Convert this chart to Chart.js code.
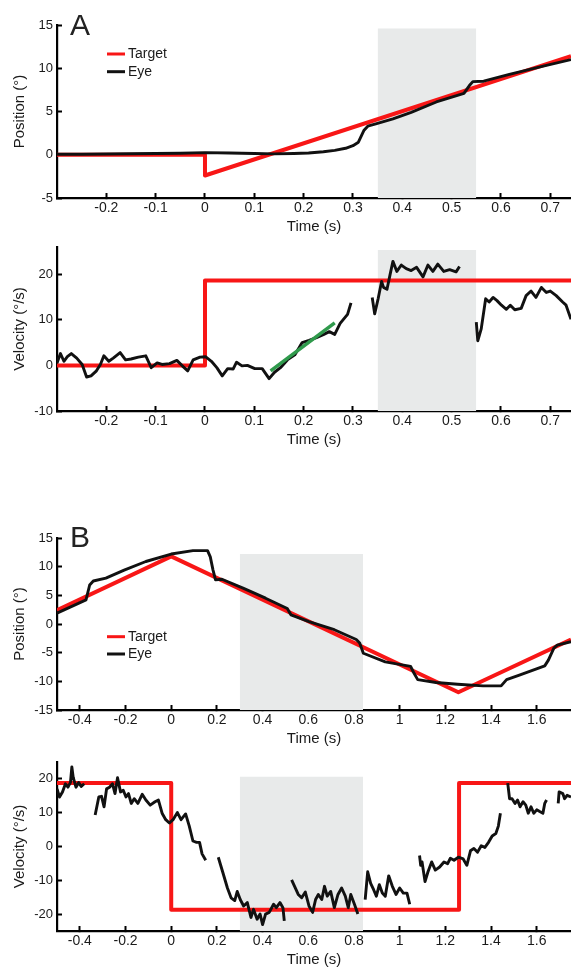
<!DOCTYPE html>
<html>
<head>
<meta charset="utf-8">
<script src="https://cdn.jsdelivr.net/npm/chart.js@4.4.1/dist/chart.umd.min.js"></script>
<style>
  html, body { margin: 0; padding: 0; background: #fff; }
  #fig { position: relative; width: 571px; height: 967px; overflow: hidden; }
  #fig canvas { position: absolute; left: 0; }
  .panel { position: absolute; font: 30px "Liberation Sans", Arial, sans-serif; line-height: 30px; color: #222; }
</style>
</head>
<body>
<div id="fig">
  <canvas id="aPos" width="571" height="238" style="top:0px"></canvas>
  <canvas id="aVel" width="571" height="221" style="top:230px"></canvas>
  <canvas id="bPos" width="571" height="250" style="top:500px"></canvas>
  <canvas id="bVel" width="571" height="226" style="top:745px"></canvas>
  <div class="panel" style="left:70px;top:10px">A</div>
  <div class="panel" style="left:70px;top:522px">B</div>
</div>
<script>
// ---- panel A ----
const aTicksX = [-0.2, -0.1, 0, 0.1, 0.2, 0.3, 0.4, 0.5, 0.6, 0.7];
const aPosTicksY = [-5, 0, 5, 10, 15];
const aVelTicksY = [-10, 0, 10, 20];
const aShadeT = [0.35, 0.55];
const aPosShadeTop = [14.6, 14.6];
const aVelShadeTop = [25.3, 25.3];

const aPosTargetT = [-0.3, 0, 0, 0.742];
const aPosTargetY = [0, 0, -2.4, 11.4];
const aPosEyeT = [-0.3, -0.25, -0.2, -0.15, -0.1, -0.05, 0, 0.05, 0.1, 0.14, 0.18, 0.21, 0.24, 0.263, 0.285, 0.3,
  0.311, 0.322, 0.33, 0.348, 0.381, 0.418, 0.469, 0.525, 0.536, 0.543, 0.565, 0.617, 0.69, 0.742];
const aPosEyeY = [0.05, 0.05, 0.08, 0.12, 0.15, 0.18, 0.25, 0.2, 0.15, 0.1, 0.15, 0.2, 0.35, 0.5, 0.75, 1.05,
  1.45, 2.8, 3.3, 3.6, 4.15, 4.9, 6.1, 7.1, 8.0, 8.45, 8.5, 9.3, 10.3, 11.0];

const aVelTargetT = [-0.3, 0, 0, 0.742];
const aVelTargetV = [0, 0, 18.6, 18.6];
const aVelFitT = [0.133, 0.263];
const aVelFitV = [-1.2, 9.3];
const aVelEyeT = [-0.3, -0.293, -0.286, -0.279, -0.271, -0.26, -0.249, -0.24, -0.231, -0.22, -0.212, -0.205, -0.195,
  -0.186, -0.172, -0.161, -0.15, -0.135, -0.12, -0.109, -0.097, -0.087, -0.072, -0.057, -0.046, -0.035, -0.024,
  -0.01, 0.001, 0.013, 0.024, 0.035, 0.046, 0.057, 0.064, 0.075, 0.086, 0.101, 0.116, 0.13, 0.141, 0.153, 0.167,
  0.182, 0.197, 0.211, 0.226, 0.241, 0.252, 0.263, 0.274, 0.289, 0.296,
  0.32,
  0.339, 0.344, 0.351, 0.358, 0.362, 0.369, 0.375, 0.381, 0.389, 0.398, 0.408, 0.418, 0.429, 0.442, 0.452, 0.462,
  0.472, 0.484, 0.496, 0.509, 0.516,
  0.53,
  0.55, 0.553, 0.56, 0.569, 0.576, 0.584, 0.592, 0.601, 0.611, 0.619, 0.628, 0.641, 0.651, 0.661, 0.671, 0.682,
  0.692, 0.7, 0.712, 0.725, 0.732, 0.742];
const aVelEyeV = [0.55, 2.6, 0.9, 1.9, 2.6, 1.6, 0.2, -2.55, -2.3, -1.2, 0.2, 2.1, 0.9,
  1.6, 2.8, 1.2, 1.4, 1.8, 2.1, -0.5, 0.55, 0.2, 0.4, 1.1, -0.1, -1.2, 1.2,
  1.8, 1.9, 0.9, -0.5, -2.3, -0.7, -0.8, 0.7, -0.1, 0, -0.7, -0.7, -2.9, -1.5, -0.5, 1.2,
  2.3, 5.0, 5.5, 6.1, 6.8, 7.4, 6.8, 9.2, 11.2, 13.7,
  null,
  14.9, 11.3, 14.6, 18.4, 17.1, 16.7, 19.8, 22.8, 20.6, 22.0, 21.2, 20.8, 21.5, 19.4, 22.0, 20.6,
  22.2, 20.6, 21.0, 20.5, 21.7,
  null,
  9.5, 5.4, 8.0, 14.6, 13.9, 14.9, 14.2, 13.2, 12.3, 13.2, 12.2, 12.5, 15.3, 16.3, 14.9, 17.1,
  16.0, 16.3, 15.3, 13.9, 13.2, 10.1];

// ---- panel B ----
const bTicksX = [-0.4, -0.2, 0, 0.2, 0.4, 0.6, 0.8, 1, 1.2, 1.4, 1.6];
const bPosTicksY = [-15, -10, -5, 0, 5, 10, 15];
const bVelTicksY = [-20, -10, 0, 10, 20];
const bShadeT = [0.3, 0.84];
const bPosShadeTop = [12.2, 12.2];
const bVelShadeTop = [20.6, 20.6];

const bPosTargetT = [-0.5, 0, 1.257, 1.75];
const bPosTargetY = [2.4, 11.8, -11.9, -2.7];
const bPosEyeT = [-0.5, -0.373, -0.357, -0.341, -0.286, -0.206, -0.111, 0, 0.095, 0.159, 0.171, 0.183, 0.194,
  0.222, 0.317, 0.413, 0.508, 0.524, 0.603, 0.714, 0.81, 0.825, 0.841, 0.937, 1.048, 1.063, 1.079, 1.159,
  1.254, 1.365, 1.444, 1.468, 1.524, 1.635, 1.651, 1.675, 1.69, 1.75];
const bPosEyeY = [1.9, 4.2, 6.8, 7.5, 8.0, 9.4, 10.9, 12.2, 12.8, 12.8, 11.7, 9.4, 7.7,
  7.8, 6.2, 4.5, 2.7, 1.6, 0.4, -1.0, -2.7, -3.3, -5.1, -6.6, -7.4, -8.6, -9.7, -10.2,
  -10.5, -10.8, -10.8, -9.7, -8.9, -7.3, -6.3, -4.2, -3.7, -3.1];

const bVelTargetT = [-0.5, 0, 0, 1.26, 1.26, 1.75];
const bVelTargetV = [18.7, 18.7, -18.7, -18.7, 18.7, 18.7];
const bVelEyeT = [-0.5, -0.489, -0.476, -0.463, -0.452, -0.441, -0.435, -0.429, -0.417, -0.405, -0.394, -0.381,
  -0.36,
  -0.333, -0.317, -0.305, -0.294, -0.283, -0.27, -0.257, -0.246, -0.235, -0.222, -0.21, -0.198, -0.187, -0.175,
  -0.162, -0.146, -0.127, -0.111, -0.092, -0.071, -0.056, -0.04, -0.024, -0.008, 0.008, 0.027, 0.043, 0.063,
  0.079, 0.095, 0.111, 0.124, 0.135, 0.151,
  0.18,
  0.206, 0.225, 0.246, 0.262, 0.278, 0.289, 0.302, 0.317, 0.333, 0.349, 0.36, 0.376, 0.389, 0.4, 0.413, 0.429,
  0.448, 0.46, 0.476, 0.489, 0.495,
  0.51,
  0.527, 0.54, 0.556, 0.571, 0.587, 0.603, 0.619, 0.632, 0.644, 0.659, 0.671, 0.683, 0.698, 0.714, 0.73, 0.746,
  0.762, 0.775, 0.786, 0.802, 0.817,
  0.83,
  0.849, 0.86, 0.873, 0.886, 0.898, 0.911, 0.924, 0.937, 0.952, 0.968, 0.984, 1.0, 1.016, 1.032, 1.044,
  1.07,
  1.087, 1.092, 1.098, 1.111, 1.124, 1.14, 1.156, 1.175, 1.194, 1.21, 1.222, 1.238, 1.257, 1.278, 1.294, 1.31,
  1.325, 1.341, 1.357, 1.373, 1.389, 1.405, 1.421, 1.432, 1.441,
  1.46,
  1.473, 1.481, 1.492, 1.505, 1.516, 1.527, 1.54, 1.552, 1.563, 1.575, 1.587, 1.6, 1.613, 1.627, 1.635, 1.643,
  1.67,
  1.694, 1.698, 1.714, 1.722, 1.733, 1.75];
const bVelEyeV = [17.0, 14.6, 16.1, 18.5, 17.5, 18.9, 23.5, 20.4, 17.5, 18.9, 17.7, 18.5,
  null,
  9.3, 14.6, 14.8, 11.7, 17.0, 17.5, 18.5, 15.6, 20.3, 16.1, 16.6, 14.6, 15.6, 12.7,
  14.1, 12.7, 15.4, 13.7, 12.2, 13.2, 13.7, 9.8, 7.9, 6.9, 7.9, 10.0, 7.9, 9.6,
  6.0, 1.6, 1.2, 1.2, -2.2, -4.1,
  null,
  -3.2, -7.5, -12.3, -15.2, -16.0, -13.3, -15.7, -17.6, -16.6, -21.0, -18.6, -21.5, -20.0, -23.1, -20.0, -19.5,
  -17.1, -18.1, -16.6, -18.1, -22.0,
  null,
  -9.9, -11.8, -14.2, -15.2, -13.5, -17.6, -19.5, -15.7, -14.2, -15.7, -11.8, -14.7, -13.3, -18.1, -14.2, -12.3,
  -14.7, -18.1, -14.2, -17.1, -20.0,
  null,
  -15.7, -7.5, -10.9, -12.8, -14.7, -11.3, -13.8, -14.7, -8.7, -11.8, -14.2, -12.3, -13.8, -13.8, -17.1,
  null,
  -2.7, -5.6, -4.6, -10.4, -7.5, -4.6, -7.0, -6.1, -4.6, -5.1, -3.5, -4.1, -3.2, -3.7, -5.6, -1.3,
  -0.6, -1.7, 0.2, -0.3, 1.2, 3.1, 3.8, 6.0, 9.8,
  null,
  18.7, 14.1, 14.1, 12.7, 13.7, 11.7, 13.2, 12.2, 9.8, 11.7, 9.8, 10.8, 10.3, 9.8, 12.7, 13.7,
  null,
  12.7, 16.1, 15.6, 14.1, 15.1, 14.6];

// ---- drawing ----
const FONT = '"Liberation Sans", Arial, Helvetica, sans-serif';
const RED = '#f81616';
const INK = '#111111';
const SHADE = '#e8eaea';
const GREEN = '#2f9a4c';

function pts(ts, vs) {
  return ts.map((t, i) => ({ x: t, y: vs[i] }));
}

function eyeSet(ts, vs) {
  return { label: 'Eye', data: pts(ts, vs), borderColor: INK, borderWidth: 2.9, spanGaps: false };
}
function targetSet(ts, vs) {
  return { label: 'Target', data: pts(ts, vs), borderColor: RED, borderWidth: 4 };
}
function shadeSet(ts, top) {
  return { label: 'shade', data: pts(ts, top), borderWidth: 0, borderColor: 'rgba(0,0,0,0)',
    backgroundColor: SHADE, fill: 'start' };
}

// small legend inside the plot, like the original
const keyLegend = {
  id: 'keyLegend',
  afterDraw(chart, args, opts) {
    if (!opts || !opts.items) return;
    const ctx = chart.ctx;
    let y = opts.y;
    opts.items.forEach(name => {
      const ds = chart.data.datasets.find(d => d.label === name);
      ctx.save();
      ctx.strokeStyle = ds.borderColor;
      ctx.lineWidth = 3;
      ctx.beginPath();
      ctx.moveTo(opts.x, y);
      ctx.lineTo(opts.x + 18, y);
      ctx.stroke();
      ctx.fillStyle = '#1a1a1a';
      ctx.font = '14px ' + FONT;
      ctx.textBaseline = 'middle';
      ctx.fillText(ds.label, opts.x + 21, y + 0.5);
      ctx.restore();
      y += opts.gap;
    });
  }
};

function axisX(min, max, ticks) {
  return {
    type: 'linear', min: min, max: max,
    afterBuildTicks: s => { s.ticks = ticks.map(v => ({ value: v })); },
    afterFit: s => { s.height = 40; },
    border: { display: true, color: '#000', width: 2.2 },
    grid: { drawOnChartArea: false, drawTicks: true, tickLength: -5, tickWidth: 2, tickColor: '#000' },
    ticks: { autoSkip: false, maxRotation: 0, padding: 7, color: '#1a1a1a', font: { family: FONT, size: 14 },
      callback: v => String(v) },
    title: { display: true, text: 'Time (s)', color: '#1a1a1a', font: { family: FONT, size: 15 },
      padding: { top: 0, bottom: 2 } }
  };
}

function axisY(min, max, ticks, label) {
  return {
    type: 'linear', min: min, max: max,
    afterBuildTicks: s => { s.ticks = ticks.map(v => ({ value: v })); },
    afterFit: s => { s.width = 57; },
    border: { display: true, color: '#000', width: 2.2 },
    grid: { drawOnChartArea: false, drawTicks: true, tickLength: -5, tickWidth: 2, tickColor: '#000' },
    ticks: { autoSkip: false, padding: 9, color: '#1a1a1a', font: { family: FONT, size: 13 },
      callback: v => String(v) },
    title: { display: true, text: label, color: '#1a1a1a', font: { family: FONT, size: 15 },
      padding: { top: 11, bottom: 0 } }
  };
}

function panel(id, padTop, datasets, x, y, legend) {
  return new Chart(document.getElementById(id), {
    type: 'line',
    data: { datasets: datasets },
    options: {
      responsive: false,
      animation: false,
      devicePixelRatio: 1,
      layout: { padding: { top: padTop, left: 0, right: 0, bottom: 0 } },
      elements: { point: { radius: 0 }, line: { tension: 0, borderJoinStyle: 'round', borderCapStyle: 'butt' } },
      plugins: { legend: { display: false }, tooltip: { enabled: false }, keyLegend: legend || false },
      scales: { x: x, y: y }
    },
    plugins: [keyLegend]
  });
}

panel('aPos', 25, [
  eyeSet(aPosEyeT, aPosEyeY),
  targetSet(aPosTargetT, aPosTargetY),
  shadeSet(aShadeT, aPosShadeTop)
], axisX(-0.3, 0.742, aTicksX), axisY(-5, 15, aPosTicksY, 'Position (°)'),
  { items: ['Target', 'Eye'], x: 107, y: 54, gap: 17.7 });

panel('aVel', 8, [
  { label: 'fit', data: pts(aVelFitT, aVelFitV), borderColor: GREEN, borderWidth: 3.5 },
  eyeSet(aVelEyeT, aVelEyeV),
  targetSet(aVelTargetT, aVelTargetV),
  shadeSet(aShadeT, aVelShadeTop)
], axisX(-0.3, 0.742, aTicksX), axisY(-10, 26, aVelTicksY, 'Velocity (°/s)'));

panel('bPos', 38, [
  eyeSet(bPosEyeT, bPosEyeY),
  targetSet(bPosTargetT, bPosTargetY),
  shadeSet(bShadeT, bPosShadeTop)
], axisX(-0.5, 1.75, bTicksX), axisY(-15, 15, bPosTicksY, 'Position (°)'),
  { items: ['Target', 'Eye'], x: 107, y: 136.7, gap: 17.3 });

panel('bVel', 13, [
  eyeSet(bVelEyeT, bVelEyeV),
  targetSet(bVelTargetT, bVelTargetV),
  shadeSet(bShadeT, bVelShadeTop)
], axisX(-0.5, 1.75, bTicksX), axisY(-25, 25, bVelTicksY, 'Velocity (°/s)'));
</script>
</body>
</html>
